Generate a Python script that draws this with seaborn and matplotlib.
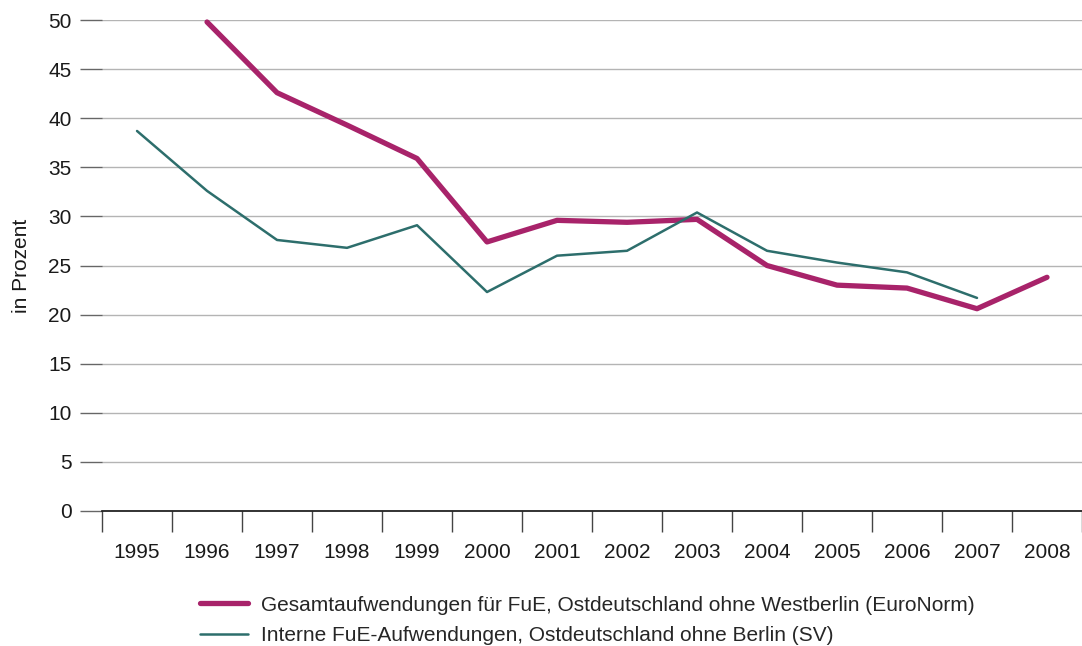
import matplotlib
matplotlib.use("Agg")
import matplotlib.pyplot as plt
import seaborn as sns
import pandas as pd
import numpy as np
from matplotlib.lines import Line2D

years = list(range(1995, 2009))
gesamt = [np.nan, 49.8, 42.6, 39.3, 35.9, 27.4, 29.6, 29.4, 29.7, 25.0, 23.0, 22.7, 20.6, 23.8]
intern = [38.7, 32.6, 27.6, 26.8, 29.1, 22.3, 26.0, 26.5, 30.4, 26.5, 25.3, 24.3, 21.7, np.nan]
series_names = [
    "Gesamtaufwendungen für FuE, Ostdeutschland ohne Westberlin (EuroNorm)",
    "Interne FuE-Aufwendungen, Ostdeutschland ohne Berlin (SV)",
]
y_ticks = [0, 5, 10, 15, 20, 25, 30, 35, 40, 45, 50]

df = pd.DataFrame({
    "Jahr": years * 2,
    "Wert": gesamt + intern,
    "Reihe": [series_names[0]] * len(years) + [series_names[1]] * len(years),
})

sns.set_theme(style="white")
plt.rcParams["font.family"] = ["Liberation Sans", "DejaVu Sans"]
FS = 15

fig = plt.figure(figsize=(10.82, 6.46), dpi=100)
ax = fig.add_axes([0.0943, 0.209, 0.9057, 0.760])

colors = ["#A8236A", "#2D6E6C"]
palette = dict(zip(series_names, colors))
sns.lineplot(data=df, x="Jahr", y="Wert", hue="Reihe", palette=palette,
             hue_order=series_names, ax=ax, legend=False)
for line, lw in zip(ax.lines, [3.8, 1.8]):
    line.set_linewidth(lw)
    line.set_clip_on(False)

ax.set_xlim(1994.5, 2008.5)
ax.set_ylim(0, 50)

# year labels centred in each category, separator ticks between them
ax.set_xticks([y - 0.5 for y in years] + [2008.5])
ax.set_xticklabels([])
ax.set_xticks(years, minor=True)
ax.set_xticklabels([str(y) for y in years], minor=True, fontsize=FS, color="#1a1a1a")
ax.tick_params(axis="x", which="major", length=15, width=1, color="#444444", direction="out", bottom=True)
ax.tick_params(axis="x", which="minor", length=0, pad=23, bottom=True)

ax.set_yticks(y_ticks)
ax.set_yticklabels([str(v) for v in y_ticks], fontsize=FS, color="#1a1a1a")
ax.tick_params(axis="y", length=16, width=1, color="#666666", direction="out", left=True, pad=6)
ax.yaxis.grid(True, color="#b4b4b4", linewidth=1)
ax.xaxis.grid(False)
ax.set_axisbelow(True)

for s in ["top", "right", "left"]:
    ax.spines[s].set_visible(False)
ax.spines["bottom"].set_color("#111111")
ax.spines["bottom"].set_linewidth(1.2)

ax.set_xlabel("")
ax.set_ylabel("in Prozent", fontsize=FS, color="#1a1a1a", labelpad=12)

handles = [Line2D([0], [0], color=colors[0], lw=3.8, solid_capstyle="round"),
           Line2D([0], [0], color=colors[1], lw=1.8)]
fig.legend(handles, series_names, loc="upper left", bbox_to_anchor=(0.185, 0.078),
           frameon=False, fontsize=FS, handlelength=2.3, handletextpad=0.6,
           labelspacing=0.54, borderaxespad=0, borderpad=0)

fig.savefig("out.png", dpi=100)
